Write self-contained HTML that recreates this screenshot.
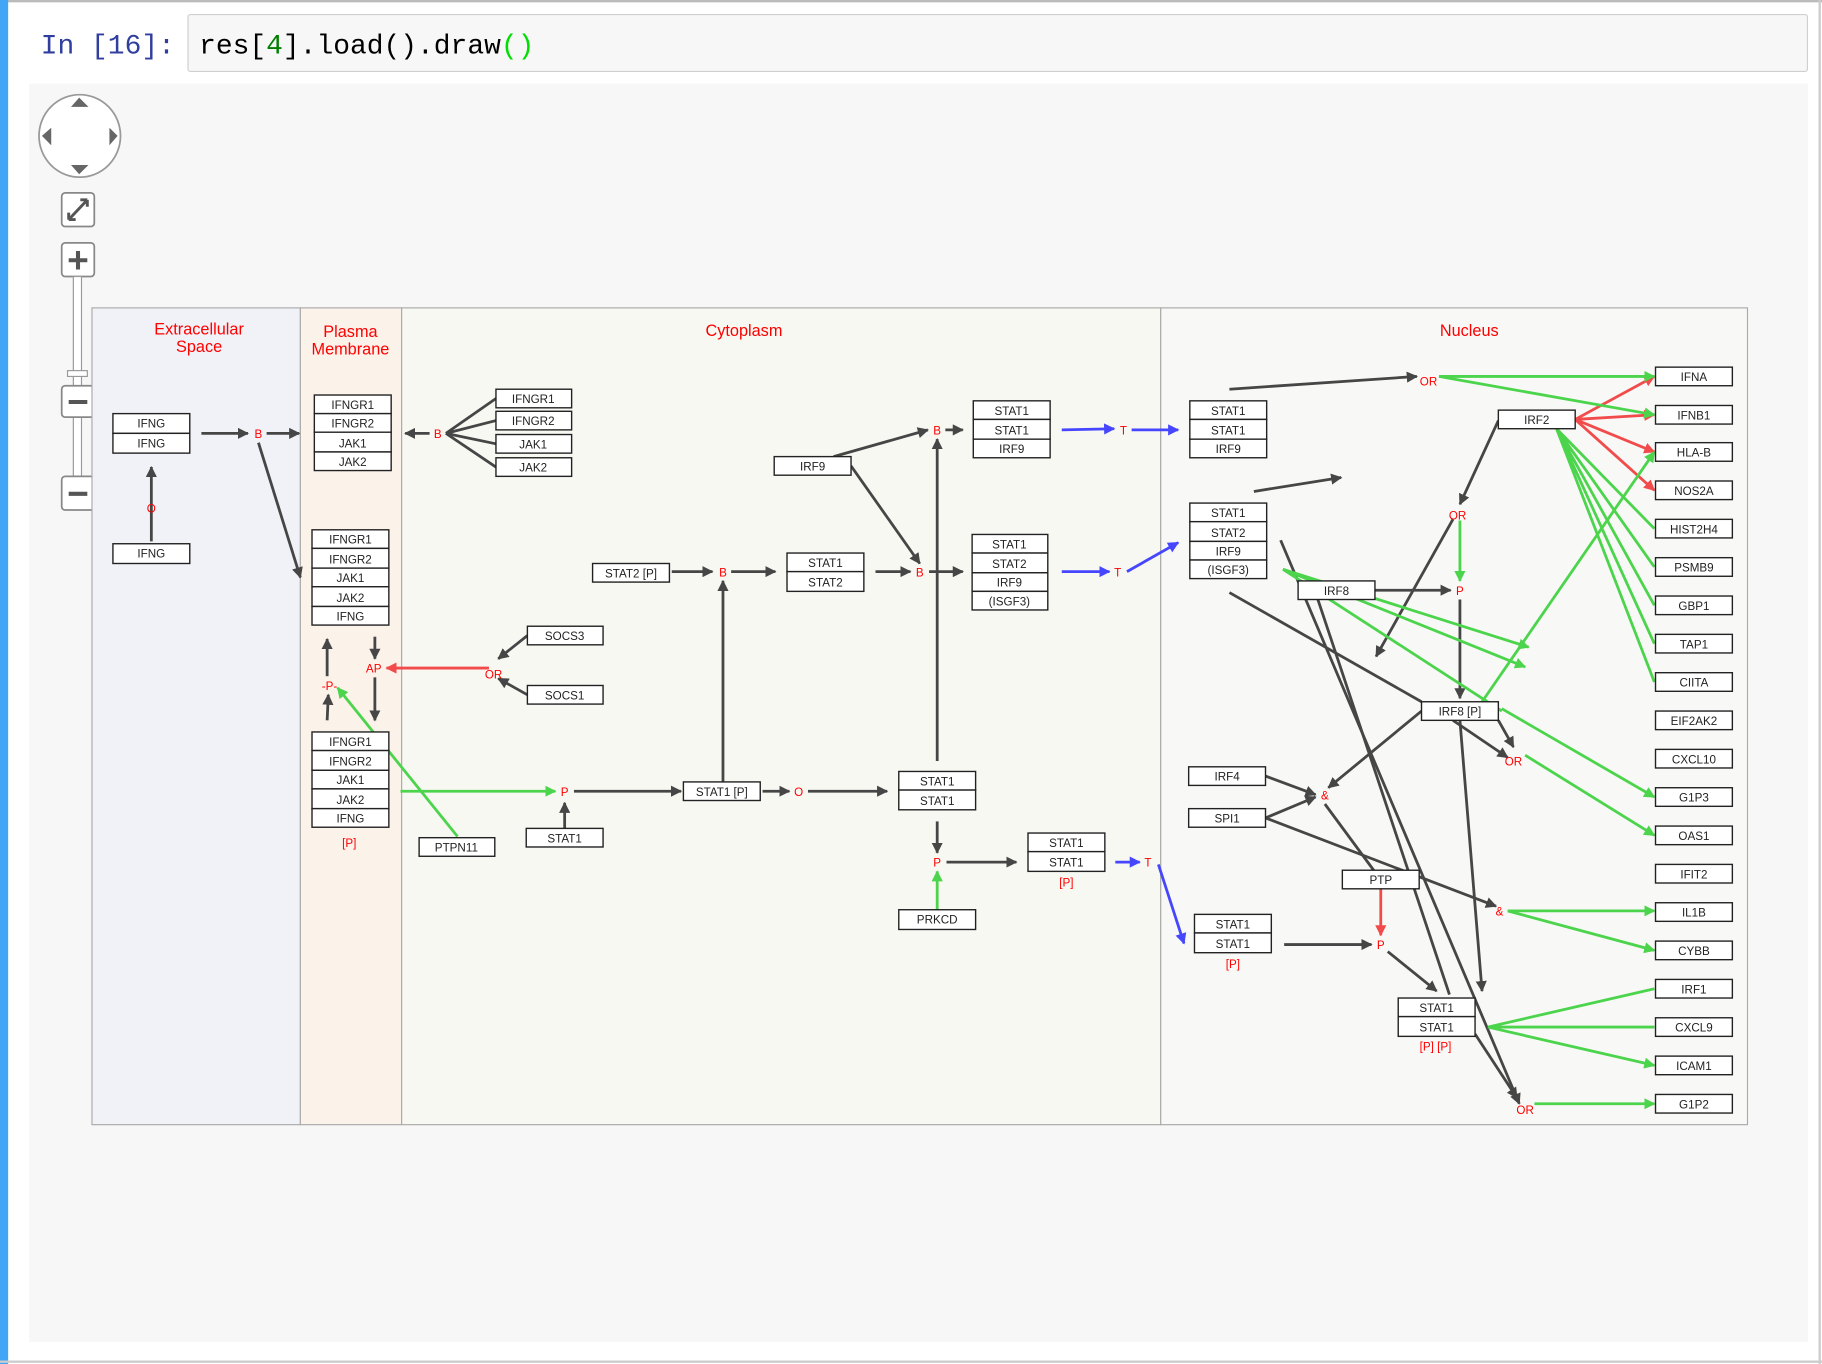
<!DOCTYPE html>
<html><head><meta charset="utf-8"><style>
html,body{margin:0;padding:0;background:#fff;}
svg{display:block}
.b rect{fill:#fff;stroke:#222;stroke-width:1.2}
.b text,.t{font-family:"Liberation Sans",sans-serif;font-size:10px;text-anchor:middle;fill:#222}
.o{font-family:"Liberation Sans",sans-serif;font-size:10px;text-anchor:middle;fill:#f00}
.k{stroke:#464646;stroke-width:2.4;fill:none}
.g{stroke:#4cd44c;stroke-width:2.4;fill:none}
.r{stroke:#f24b4b;stroke-width:2.4;fill:none}
.u{stroke:#4646ff;stroke-width:2.4;fill:none}
.lab{font-family:"Liberation Sans",sans-serif;font-size:14px;text-anchor:middle;fill:#f00}
</style></head><body>
<svg width="1822" height="1364" viewBox="0 0 1565 1174" preserveAspectRatio="none" xmlns="http://www.w3.org/2000/svg">
<defs>
<marker id="mk" viewBox="0 0 10 10" refX="9" refY="5" markerWidth="4" markerHeight="4" orient="auto"><path d="M0,0L10,5L0,10z" fill="#464646"/></marker>
<marker id="mg" viewBox="0 0 10 10" refX="9" refY="5" markerWidth="4" markerHeight="4" orient="auto"><path d="M0,0L10,5L0,10z" fill="#4cd44c"/></marker>
<marker id="mr" viewBox="0 0 10 10" refX="9" refY="5" markerWidth="4" markerHeight="4" orient="auto"><path d="M0,0L10,5L0,10z" fill="#f24b4b"/></marker>
<marker id="mu" viewBox="0 0 10 10" refX="9" refY="5" markerWidth="4" markerHeight="4" orient="auto"><path d="M0,0L10,5L0,10z" fill="#4646ff"/></marker>
</defs>
<rect x="0" y="0" width="1565" height="1174" fill="#fff"/>
<rect x="0" y="0" width="1565" height="2" fill="#bbb"/>
<rect x="0" y="0" width="7" height="1174" fill="#42a5f5"/>
<rect x="1562" y="0" width="2" height="1174" fill="#ccc"/>
<rect x="0" y="1171" width="1565" height="2" fill="#ccc"/>
<text x="35" y="46" font-family="Liberation Mono,monospace" font-size="24" fill="#303f9f">In [16]:</text>
<rect x="161.5" y="12.5" width="1391" height="49" rx="2" fill="#f7f7f7" stroke="#cfcfcf"/>
<text x="171" y="46" font-family="Liberation Mono,monospace" font-size="24" fill="#000">res[<tspan fill="#008000">4</tspan>].load().draw<tspan fill="#00dd00">()</tspan></text>
<rect x="25" y="72" width="1528" height="1083" fill="#f7f7f7"/>
<!-- nav -->
<ellipse cx="68.5" cy="117" rx="35" ry="35.5" fill="#fff" stroke="#999" stroke-width="1.5"/>
<path d="M61,92L68,84L76,92z M61,142L76,142L68,150z M36,117L44,110L44,125z M101,117L94,110L94,125z" fill="#666"/>
<rect x="53" y="166" width="28" height="29" rx="3" fill="#fff" stroke="#888" stroke-width="1.5"/>
<path d="M59,189L75,172M59,189l0,-6M59,189l6,0M75,172l-6,0M75,172l0,6" stroke="#555" stroke-width="2.5" fill="none"/>
<rect x="53" y="209" width="28" height="29" rx="3" fill="#fff" stroke="#888" stroke-width="1.5"/>
<path d="M67,216v16M59,224h16" stroke="#555" stroke-width="3.5"/>
<rect x="63" y="238" width="7" height="172" fill="#fff" stroke="#999"/>
<rect x="58" y="319" width="17" height="5" fill="#fff" stroke="#999"/>
<rect x="53" y="332" width="28" height="27" rx="3" fill="#fff" stroke="#888" stroke-width="1.5"/>
<path d="M59,346h16" stroke="#555" stroke-width="3.5"/>
<rect x="53" y="410" width="28" height="29" rx="3" fill="#fff" stroke="#888" stroke-width="1.5"/>
<path d="M59,425h16" stroke="#555" stroke-width="3.5"/>
<!-- compartments -->
<rect x="79" y="265" width="179" height="703" fill="#f1f1f8" stroke="#aaa"/>
<rect x="258" y="265" width="87" height="703" fill="#fbf2ea" stroke="#aaa"/>
<rect x="345" y="265" width="652" height="703" fill="#f8f8f3" stroke="#aaa"/>
<rect x="997" y="265" width="504" height="703" fill="#f8f9f6" stroke="#aaa"/>
<text class="lab" x="171" y="288">Extracellular</text><text class="lab" x="171" y="303">Space</text>
<text class="lab" x="301" y="290">Plasma</text><text class="lab" x="301" y="305">Membrane</text>
<text class="lab" x="639" y="289">Cytoplasm</text>
<text class="lab" x="1262" y="289">Nucleus</text>

<!-- edges -->
<g class="k">
<path d="M130,466V402" marker-end="url(#mk)"/>
<path d="M173,373H213" marker-end="url(#mk)"/>
<path d="M229,373H257" marker-end="url(#mk)"/>
<path d="M222,381L258,497" marker-end="url(#mk)"/>
<path d="M369,373H348" marker-end="url(#mk)"/>
<path d="M426,343L383,373M426,362L383,373M426,382L383,373M426,402L383,373"/>
<path d="M281,620L282,598" marker-end="url(#mk)"/>
<path d="M281,582L281,550" marker-end="url(#mk)"/>
<path d="M322,548L322,567" marker-end="url(#mk)"/>
<path d="M322,583L322,620" marker-end="url(#mk)"/>
<path d="M453,547L428,567" marker-end="url(#mk)"/>
<path d="M453,598L428,584" marker-end="url(#mk)"/>
<path d="M485,713V691" marker-end="url(#mk)"/>
<path d="M493,681H585" marker-end="url(#mk)"/>
<path d="M621,673V500" marker-end="url(#mk)"/>
<path d="M577,492H612" marker-end="url(#mk)"/>
<path d="M628,492H666" marker-end="url(#mk)"/>
<path d="M655,681H678" marker-end="url(#mk)"/>
<path d="M694,681H762" marker-end="url(#mk)"/>
<path d="M752,492H782" marker-end="url(#mk)"/>
<path d="M716,393L797,370" marker-end="url(#mk)"/>
<path d="M731,401L790,485" marker-end="url(#mk)"/>
<path d="M805,655V378" marker-end="url(#mk)"/>
<path d="M812,370H827" marker-end="url(#mk)"/>
<path d="M798,492H827" marker-end="url(#mk)"/>
<path d="M805,707V734" marker-end="url(#mk)"/>
<path d="M813,742H873" marker-end="url(#mk)"/>
<path d="M1056,335L1217,324" marker-end="url(#mk)"/>
<path d="M1077,423L1152,411" marker-end="url(#mk)"/>
<path d="M1287,362L1254,434" marker-end="url(#mk)"/>
<path d="M1248,447L1182,565" marker-end="url(#mk)"/>
<path d="M1181,508H1246" marker-end="url(#mk)"/>
<path d="M1254,516V601" marker-end="url(#mk)"/>
<path d="M1056,510L1221,604"/>
<path d="M1100,465L1305,950" marker-end="url(#mk)"/>
<path d="M1132,516L1245,856"/>
<path d="M1287,620L1300,643" marker-end="url(#mk)"/>
<path d="M1248,620L1295,652" marker-end="url(#mk)"/>
<path d="M1221,612L1141,678" marker-end="url(#mk)"/>
<path d="M1087,668L1130,684" marker-end="url(#mk)"/>
<path d="M1087,704L1130,686" marker-end="url(#mk)"/>
<path d="M1087,704L1285,780" marker-end="url(#mk)"/>
<path d="M1138,692L1188,760"/>
<path d="M1254,620L1273,853" marker-end="url(#mk)"/>
<path d="M1103,813H1178" marker-end="url(#mk)"/>
<path d="M1192,819L1234,853" marker-end="url(#mk)"/>
<path d="M1267,890L1303,945" marker-end="url(#mk)"/>
</g>
<g class="r">
<path d="M420,575H332" marker-end="url(#mr)"/>
<path d="M1353,361L1421,324" marker-end="url(#mr)"/>
<path d="M1353,361L1421,357" marker-end="url(#mr)"/>
<path d="M1353,361L1421,389" marker-end="url(#mr)"/>
<path d="M1353,361L1421,422" marker-end="url(#mr)"/>
<path d="M1186,765V805" marker-end="url(#mr)"/>
</g>
<g class="g">
<path d="M393,720L290,592" marker-end="url(#mg)"/>
<path d="M344,681H477" marker-end="url(#mg)"/>
<path d="M805,783V750" marker-end="url(#mg)"/>
<path d="M1236,324H1421" marker-end="url(#mg)"/>
<path d="M1236,324L1421,357" marker-end="url(#mg)"/>
<path d="M1337,369L1421,455M1337,369L1421,488M1337,369L1421,521M1337,369L1421,554M1337,369L1421,587"/>
<path d="M1254,448V500" marker-end="url(#mg)"/>
<path d="M1102,490L1313,557" marker-end="url(#mg)"/>
<path d="M1102,490L1310,574" marker-end="url(#mg)"/>
<path d="M1102,490L1290,612"/>
<path d="M1273,604L1421,389" marker-end="url(#mg)"/>
<path d="M1290,610L1421,686" marker-end="url(#mg)"/>
<path d="M1310,650L1421,719" marker-end="url(#mg)"/>
<path d="M1295,784H1421" marker-end="url(#mg)"/>
<path d="M1295,784L1421,818" marker-end="url(#mg)"/>
<path d="M1278,884L1421,851M1278,884H1421M1278,884L1421,917" marker-end="url(#mg)"/>
<path d="M1318,950H1421" marker-end="url(#mg)"/>
</g>
<g class="u">
<path d="M912,370L957,369" marker-end="url(#mu)"/>
<path d="M972,370H1012" marker-end="url(#mu)"/>
<path d="M912,492H953" marker-end="url(#mu)"/>
<path d="M968,492L1012,467" marker-end="url(#mu)"/>
<path d="M958,742H979" marker-end="url(#mu)"/>
<path d="M995,744L1017,812" marker-end="url(#mu)"/>
</g>
<!-- operators -->
<g class="o">
<text x="130" y="441">O</text><text x="222" y="377">B</text><text x="376" y="377">B</text>
<text x="283" y="594">-P-</text><text x="321" y="579">AP</text><text x="424" y="584">OR</text>
<text x="485" y="685">P</text><text x="621" y="496">B</text><text x="686" y="685">O</text>
<text x="790" y="496">B</text><text x="805" y="374">B</text><text x="805" y="746">P</text>
<text x="965" y="374">T</text><text x="960" y="496">T</text><text x="986" y="746">T</text>
<text x="1227" y="332">OR</text><text x="1252" y="447">OR</text><text x="1254" y="512">P</text>
<text x="1300" y="659">OR</text><text x="1138" y="688">&amp;</text><text x="1288" y="788">&amp;</text>
<text x="1186" y="817">P</text><text x="1310" y="959">OR</text>
<text x="300" y="729">[P]</text><text x="916" y="763">[P]</text><text x="1059" y="833">[P]</text><text x="1233" y="904">[P] [P]</text>
</g>
<!-- boxes -->
<g class="b">
<rect x="97" y="356" width="66" height="17"/><text x="130" y="368">IFNG</text>
<rect x="97" y="373" width="66" height="17"/><text x="130" y="385">IFNG</text>
<rect x="97" y="468" width="66" height="17"/><text x="130" y="480">IFNG</text>
<rect x="270" y="340" width="66" height="16"/><text x="303" y="352">IFNGR1</text>
<rect x="270" y="356" width="66" height="16"/><text x="303" y="368">IFNGR2</text>
<rect x="270" y="372" width="66" height="17"/><text x="303" y="385">JAK1</text>
<rect x="270" y="389" width="66" height="16"/><text x="303" y="401">JAK2</text>
<rect x="268" y="456" width="66" height="16"/><text x="301" y="468">IFNGR1</text>
<rect x="268" y="472" width="66" height="17"/><text x="301" y="485">IFNGR2</text>
<rect x="268" y="489" width="66" height="16"/><text x="301" y="501">JAK1</text>
<rect x="268" y="505" width="66" height="17"/><text x="301" y="518">JAK2</text>
<rect x="268" y="522" width="66" height="16"/><text x="301" y="534">IFNG</text>
<rect x="268" y="630" width="66" height="16"/><text x="301" y="642">IFNGR1</text>
<rect x="268" y="646" width="66" height="17"/><text x="301" y="659">IFNGR2</text>
<rect x="268" y="663" width="66" height="16"/><text x="301" y="675">JAK1</text>
<rect x="268" y="679" width="66" height="17"/><text x="301" y="692">JAK2</text>
<rect x="268" y="696" width="66" height="16"/><text x="301" y="708">IFNG</text>
<rect x="426" y="335" width="65" height="16"/><text x="458" y="347">IFNGR1</text>
<rect x="426" y="354" width="65" height="16"/><text x="458" y="366">IFNGR2</text>
<rect x="426" y="374" width="65" height="16"/><text x="458" y="386">JAK1</text>
<rect x="426" y="394" width="65" height="16"/><text x="458" y="406">JAK2</text>
<rect x="453" y="539" width="65" height="16"/><text x="485" y="551">SOCS3</text>
<rect x="453" y="590" width="65" height="16"/><text x="485" y="602">SOCS1</text>
<rect x="360" y="721" width="65" height="16"/><text x="392" y="733">PTPN11</text>
<rect x="452" y="713" width="66" height="16"/><text x="485" y="725">STAT1</text>
<rect x="509" y="485" width="66" height="16"/><text x="542" y="497">STAT2 [P]</text>
<rect x="587" y="673" width="66" height="16"/><text x="620" y="685">STAT1 [P]</text>
<rect x="676" y="476" width="66" height="16"/><text x="709" y="488">STAT1</text>
<rect x="676" y="492" width="66" height="17"/><text x="709" y="505">STAT2</text>
<rect x="665" y="393" width="66" height="16"/><text x="698" y="405">IRF9</text>
<rect x="772" y="664" width="66" height="16"/><text x="805" y="676">STAT1</text>
<rect x="772" y="680" width="66" height="17"/><text x="805" y="693">STAT1</text>
<rect x="772" y="783" width="66" height="17"/><text x="805" y="795">PRKCD</text>
<rect x="836" y="345" width="66" height="16"/><text x="869" y="357">STAT1</text>
<rect x="836" y="361" width="66" height="17"/><text x="869" y="374">STAT1</text>
<rect x="836" y="378" width="66" height="16"/><text x="869" y="390">IRF9</text>
<rect x="835" y="460" width="65" height="16"/><text x="867" y="472">STAT1</text>
<rect x="835" y="476" width="65" height="17"/><text x="867" y="489">STAT2</text>
<rect x="835" y="493" width="65" height="16"/><text x="867" y="505">IRF9</text>
<rect x="835" y="509" width="65" height="16"/><text x="867" y="521">(ISGF3)</text>
<rect x="883" y="717" width="66" height="16"/><text x="916" y="729">STAT1</text>
<rect x="883" y="733" width="66" height="17"/><text x="916" y="746">STAT1</text>
<rect x="1022" y="345" width="66" height="16"/><text x="1055" y="357">STAT1</text>
<rect x="1022" y="361" width="66" height="17"/><text x="1055" y="374">STAT1</text>
<rect x="1022" y="378" width="66" height="16"/><text x="1055" y="390">IRF9</text>
<rect x="1022" y="433" width="66" height="16"/><text x="1055" y="445">STAT1</text>
<rect x="1022" y="449" width="66" height="17"/><text x="1055" y="462">STAT2</text>
<rect x="1022" y="466" width="66" height="16"/><text x="1055" y="478">IRF9</text>
<rect x="1022" y="482" width="66" height="16"/><text x="1055" y="494">(ISGF3)</text>
<rect x="1287" y="353" width="66" height="16"/><text x="1320" y="365">IRF2</text>
<rect x="1115" y="500" width="66" height="16"/><text x="1148" y="512">IRF8</text>
<rect x="1221" y="604" width="66" height="16"/><text x="1254" y="616">IRF8 [P]</text>
<rect x="1021" y="660" width="66" height="16"/><text x="1054" y="672">IRF4</text>
<rect x="1021" y="696" width="66" height="16"/><text x="1054" y="708">SPI1</text>
<rect x="1153" y="749" width="66" height="16"/><text x="1186" y="761">PTP</text>
<rect x="1026" y="787" width="66" height="16"/><text x="1059" y="799">STAT1</text>
<rect x="1026" y="803" width="66" height="17"/><text x="1059" y="816">STAT1</text>
<rect x="1201" y="859" width="66" height="16"/><text x="1234" y="871">STAT1</text>
<rect x="1201" y="875" width="66" height="17"/><text x="1234" y="888">STAT1</text>
<rect x="1422" y="316" width="66" height="16"/><text x="1455" y="328">IFNA</text>
<rect x="1422" y="349" width="66" height="16"/><text x="1455" y="361">IFNB1</text>
<rect x="1422" y="381" width="66" height="16"/><text x="1455" y="393">HLA-B</text>
<rect x="1422" y="414" width="66" height="16"/><text x="1455" y="426">NOS2A</text>
<rect x="1422" y="447" width="66" height="16"/><text x="1455" y="459">HIST2H4</text>
<rect x="1422" y="480" width="66" height="16"/><text x="1455" y="492">PSMB9</text>
<rect x="1422" y="513" width="66" height="16"/><text x="1455" y="525">GBP1</text>
<rect x="1422" y="546" width="66" height="16"/><text x="1455" y="558">TAP1</text>
<rect x="1422" y="579" width="66" height="16"/><text x="1455" y="591">CIITA</text>
<rect x="1422" y="612" width="66" height="16"/><text x="1455" y="624">EIF2AK2</text>
<rect x="1422" y="645" width="66" height="16"/><text x="1455" y="657">CXCL10</text>
<rect x="1422" y="678" width="66" height="16"/><text x="1455" y="690">G1P3</text>
<rect x="1422" y="711" width="66" height="16"/><text x="1455" y="723">OAS1</text>
<rect x="1422" y="744" width="66" height="16"/><text x="1455" y="756">IFIT2</text>
<rect x="1422" y="777" width="66" height="16"/><text x="1455" y="789">IL1B</text>
<rect x="1422" y="810" width="66" height="16"/><text x="1455" y="822">CYBB</text>
<rect x="1422" y="843" width="66" height="16"/><text x="1455" y="855">IRF1</text>
<rect x="1422" y="876" width="66" height="16"/><text x="1455" y="888">CXCL9</text>
<rect x="1422" y="909" width="66" height="16"/><text x="1455" y="921">ICAM1</text>
<rect x="1422" y="942" width="66" height="16"/><text x="1455" y="954">G1P2</text>
</g>
</svg>
</body></html>
